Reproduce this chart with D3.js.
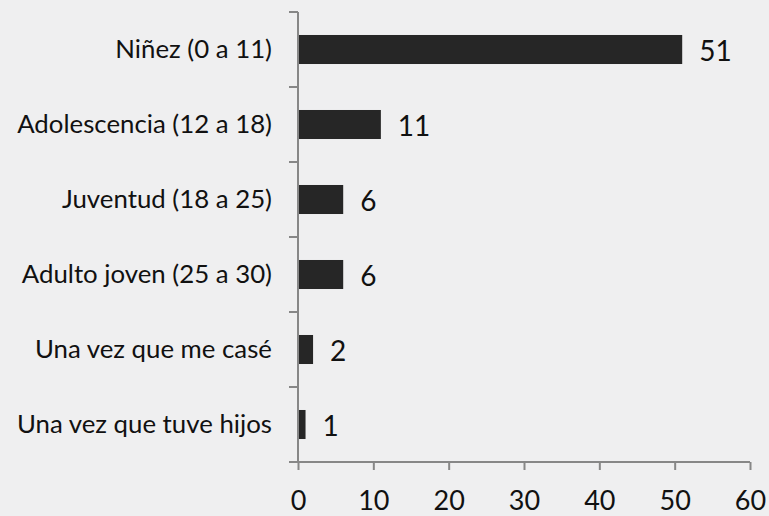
<!DOCTYPE html>
<html><head><meta charset="utf-8">
<script src="https://cdn.jsdelivr.net/npm/d3@7/dist/d3.min.js"></script>
<style>html,body{margin:0;padding:0;background:#efeff0;}svg{display:block;}</style>
</head><body>
<script>
const categories = ["Niñez (0 a 11)","Adolescencia (12 a 18)","Juventud (18 a 25)","Adulto joven (25 a 30)","Una vez que me casé","Una vez que tuve hijos"];
const values = [51, 11, 6, 6, 2, 1];
const xTicks = [0, 10, 20, 30, 40, 50, 60];

const W = 769, H = 516;
const svg = d3.select("body").append("svg").attr("width", W).attr("height", H);
svg.append("rect").attr("width", W).attr("height", H).attr("fill", "#efeff0");

const x = d3.scaleLinear().domain([0, 60]).range([298, 750]);
const y = d3.scaleBand().domain(categories).range([12, 462]).paddingInner(0.613).paddingOuter(0.3065);
const axisColor = "#878787";
const font = "Lato, 'Open Sans', sans-serif";

// bars
svg.selectAll("rect.bar").data(values).enter().append("rect")
  .attr("x", x(0)).attr("y", (d, i) => y(categories[i]))
  .attr("width", d => x(d) - x(0)).attr("height", y.bandwidth())
  .attr("fill", "#262626");

// y axis
const yAx = svg.append("g");
yAx.append("line").attr("x1", 298).attr("x2", 298).attr("y1", 12).attr("y2", 462)
  .attr("stroke", axisColor).attr("stroke-width", 2);
const step = y.step();
d3.range(categories.length + 1).forEach(i => {
  const yy = 12 + i * step;
  yAx.append("line").attr("x1", 289).attr("x2", 298).attr("y1", yy).attr("y2", yy)
    .attr("stroke", axisColor).attr("stroke-width", 2);
});
svg.selectAll("text.cat").data(categories).enter().append("text")
  .attr("x", 272).attr("y", d => y(d) + y.bandwidth() / 2 + 8.5)
  .attr("text-anchor", "end").attr("font-family", font).attr("font-size", 25.8)
  .attr("fill", "#111").text(d => d);

// x axis
const xAx = svg.append("g").attr("transform", "translate(0,462)");
xAx.call(d3.axisBottom(x).tickValues(xTicks).tickSize(8).tickPadding(22).tickFormat(d3.format("d")));
xAx.select(".domain").attr("stroke", axisColor).attr("stroke-width", 2).attr("d", "M" + x(0) + ",0H" + x(60));
xAx.selectAll(".tick line").attr("stroke", axisColor).attr("stroke-width", 2);
xAx.selectAll(".tick text").attr("font-family", font).attr("font-size", 27).attr("fill", "#111")
  .attr("dy", null).attr("y", 47.5);

// value labels
svg.selectAll("text.val").data(values).enter().append("text")
  .attr("x", d => x(d) + 17).attr("y", (d, i) => y(categories[i]) + y.bandwidth() / 2 + 11)
  .attr("font-family", font).attr("font-size", 28).attr("fill", "#111").text(d => d);
</script>
</body></html>
